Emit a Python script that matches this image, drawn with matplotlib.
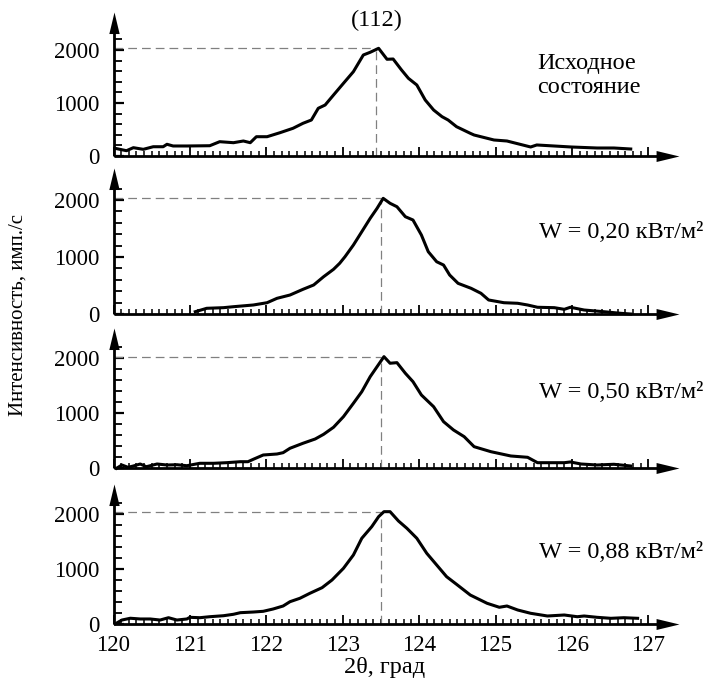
import matplotlib
matplotlib.use('Agg')
import matplotlib.pyplot as plt
from matplotlib.ticker import FixedLocator
from matplotlib.path import Path

plt.rcParams['font.family'] = ['Liberation Serif', 'DejaVu Serif']

# ---------------- data (2θ in degrees, intensity in counts/s) ----------------
x1 = [120.02, 120.17, 120.26, 120.39, 120.52, 120.65, 120.70, 120.78, 120.96, 121.26,
      121.39, 121.57, 121.70, 121.79, 121.87, 122.01, 122.18, 122.35, 122.48, 122.59,
      122.68, 122.77, 122.88, 123.01, 123.14, 123.27, 123.36, 123.47, 123.58, 123.66,
      123.77, 123.86, 123.97, 124.08, 124.19, 124.30, 124.38, 124.49, 124.67, 124.72,
      124.98, 125.15, 125.46, 125.54, 125.99, 126.33, 126.55, 126.77]
y1 = [145, 100, 157, 126, 175, 175, 221, 189, 189, 194,
      270, 251, 283, 251, 364, 364, 440, 523, 617, 679,
      900, 962, 1151, 1372, 1591, 1906, 1957, 2032, 1825, 1830,
      1623, 1466, 1340, 1057, 868, 742, 679, 553, 428, 396,
      302, 283, 170, 208, 170, 151, 151, 132]

x2 = [121.07, 121.22, 121.44, 121.57, 121.83, 122.01, 122.14, 122.31, 122.48, 122.62,
      122.75, 122.88, 122.96, 123.03, 123.14, 123.25, 123.36, 123.45, 123.53, 123.62,
      123.71, 123.82, 123.92, 124.03, 124.12, 124.23, 124.32, 124.40, 124.51, 124.68,
      124.81, 124.91, 125.11, 125.29, 125.42, 125.55, 125.77, 125.90, 125.98, 126.16,
      126.42, 126.64, 126.77]
y2 = [40, 100, 111, 128, 158, 198, 275, 333, 433, 509,
      654, 784, 889, 1005, 1210, 1444, 1679, 1854, 2029, 1942,
      1882, 1707, 1649, 1386, 1093, 917, 859, 684, 538, 451,
      363, 246, 198, 188, 158, 118, 111, 82, 118, 70,
      40, 12, 0]

x3 = [120.04, 120.11, 120.19, 120.26, 120.35, 120.43, 120.57, 120.70, 120.83, 120.96,
      121.13, 121.31, 121.48, 121.66, 121.76, 121.83, 121.96, 122.14, 122.22, 122.31,
      122.48, 122.64, 122.75, 122.88, 123.01, 123.14, 123.25, 123.36, 123.45, 123.54,
      123.62, 123.71, 123.82, 123.92, 124.03, 124.19, 124.32, 124.45, 124.59, 124.72,
      124.94, 125.20, 125.42, 125.55, 125.90, 125.98, 126.12, 126.33, 126.55, 126.77]
y3 = [0, 60, 18, 42, 78, 29, 78, 60, 65, 47,
      91, 91, 102, 120, 120, 164, 242, 260, 284, 364,
      455, 533, 618, 746, 939, 1182, 1393, 1666, 1848, 2030,
      1910, 1921, 1728, 1575, 1333, 1120, 848, 697, 575, 393,
      302, 224, 200, 102, 102, 115, 78, 60, 73, 42]

x4 = [120.02, 120.11, 120.22, 120.35, 120.48, 120.61, 120.72, 120.83, 120.96, 121.00,
      121.13, 121.26, 121.44, 121.57, 121.66, 121.83, 121.96, 122.09, 122.22, 122.31,
      122.44, 122.57, 122.73, 122.86, 123.01, 123.14, 123.25, 123.38, 123.47, 123.54,
      123.62, 123.73, 123.84, 123.97, 124.10, 124.23, 124.36, 124.49, 124.67, 124.89,
      125.05, 125.15, 125.29, 125.46, 125.68, 125.90, 126.07, 126.16, 126.33, 126.51,
      126.68, 126.86]
y4 = [0, 72, 104, 91, 91, 72, 114, 72, 91, 121,
      114, 132, 150, 176, 205, 217, 230, 272, 326, 404,
      466, 556, 658, 797, 1009, 1250, 1553, 1763, 1944, 2035,
      2035, 1866, 1734, 1553, 1281, 1069, 857, 719, 525, 375,
      303, 326, 254, 194, 145, 163, 132, 145, 121, 103,
      114, 103]

xs = [x1, x2, x3, x4]
ys = [y1, y2, y3, y4]
peak_x = [123.44, 123.50, 123.50, 123.50]
peak_y = [2030, 2030, 2030, 2020]
panel_labels = ['Исходное\nсостояние', 'W = 0,20 кВт/м²', 'W = 0,50 кВт/м²', 'W = 0,88 кВт/м²']
xticks = [120, 121, 122, 123, 124, 125, 126, 127]
yticks = [0, 1000, 2000]
yminor = [200, 400, 600, 800, 1200, 1400, 1600, 1800, 2200]
xminor = [round(120 + 0.1 * i, 1) for i in range(71)]

# ---------------- layout (pixels) ----------------
W, H = 728, 686
fig = plt.figure(figsize=(W / 100, H / 100), dpi=100)
x0_px, px_per_deg, xmax = 113.5, 76.4, 127.4
baseline = [156, 314, 468.3, 624]
top = [12, 168, 328, 484]
scale = [0.053, 0.057, 0.055, 0.0552]
TFS = 16.5   # tick labels
LFS = 17.5   # annotations

right_head = Path([(0, 0), (-1, 0.24), (-1, -0.24), (0, 0)],
                  [Path.MOVETO, Path.LINETO, Path.LINETO, Path.CLOSEPOLY])
up_head = Path([(0, 0), (0.24, -1), (-0.24, -1), (0, 0)],
               [Path.MOVETO, Path.LINETO, Path.LINETO, Path.CLOSEPOLY])

for i in range(4):
    hpx = baseline[i] - top[i]
    ax = fig.add_axes([x0_px / W, (H - baseline[i]) / H,
                       (xmax - 120) * px_per_deg / W, hpx / H])
    ax.set_xlim(120, xmax)
    ax.set_ylim(0, hpx / scale[i])
    for s in ax.spines.values():
        s.set_visible(False)
    ax.patch.set_visible(False)

    ax.plot(xs[i], ys[i], color='black', lw=2.2, solid_joinstyle='round', clip_on=False, zorder=3)
    dash = dict(color='#808080', lw=0.9, ls=(0, (7, 4)), zorder=2)
    ax.plot([120, peak_x[i]], [peak_y[i], peak_y[i]], **dash)
    ax.plot([peak_x[i], peak_x[i]], [0, peak_y[i]], **dash)

    # axis lines with arrowheads
    ax.plot([0, 0.97], [0, 0], transform=ax.transAxes, color='black', lw=2.0,
            clip_on=False, zorder=4, solid_capstyle='butt')
    ax.plot([0, 0], [0, 0.9], transform=ax.transAxes, color='black', lw=2.0,
            clip_on=False, zorder=4, solid_capstyle='butt')
    ax.plot([1], [0], transform=ax.transAxes, marker=right_head, markersize=33,
            color='black', mew=0, clip_on=False, zorder=5)
    ax.plot([0], [1], transform=ax.transAxes, marker=up_head, markersize=31,
            color='black', mew=0, clip_on=False, zorder=5)

    ax.xaxis.set_major_locator(FixedLocator(xticks))
    ax.xaxis.set_minor_locator(FixedLocator(xminor))
    ax.yaxis.set_major_locator(FixedLocator(yticks))
    ax.yaxis.set_minor_locator(FixedLocator(yminor))
    ax.tick_params(axis='x', which='major', direction='in', length=6.5, width=1.3,
                   labelsize=TFS, pad=8, labelbottom=(i == 3), top=False)
    ax.tick_params(axis='x', which='minor', direction='in', length=3.6, width=1.1, top=False)
    ax.tick_params(axis='y', which='major', direction='in', length=7.5, width=1.6,
                   labelsize=TFS, pad=10, right=False)
    ax.tick_params(axis='y', which='minor', direction='in', length=5.5, width=1.3, right=False)

    if i == 0:
        fig.text(537 / W, 1 - 75.5 / H, panel_labels[i], fontsize=LFS, ha='left', va='center',
                 linespacing=1.15)
    else:
        fig.text(539 / W, 1 - [0, 233, 393, 553][i] / H, panel_labels[i], fontsize=LFS,
                 ha='left', va='center')

fig.text(377 / W, 1 - 20 / H, '(112)', fontsize=LFS, ha='center', va='center')
fig.text(18 / W, 1 - 315 / H, 'Интенсивность, имп./с', fontsize=15, rotation=90,
         ha='center', va='center')
fig.text(385 / W, 1 - 668 / H, '2θ, град', fontsize=LFS, ha='center', va='center')

fig.savefig('out.png', dpi=100)
